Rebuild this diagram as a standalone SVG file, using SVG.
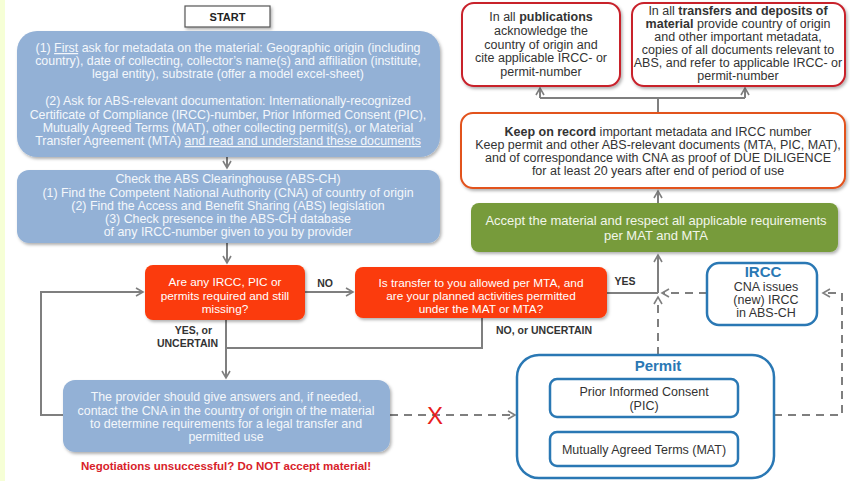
<svg xmlns="http://www.w3.org/2000/svg" width="850" height="481" viewBox="0 0 850 481">
  <defs>
    <filter id="shadow" x="-10%" y="-10%" width="120%" height="130%">
      <feDropShadow dx="1.5" dy="2" stdDeviation="1.5" flood-color="#000" flood-opacity="0.3"/>
    </filter>
    <marker id="arrow" viewBox="0 0 10 10" refX="8" refY="5" markerWidth="5" markerHeight="5" orient="auto-start-reverse">
      <path d="M1,1 L8,5 L1,9" fill="none" stroke="#7f7f7f" stroke-width="1.6"/>
    </marker>
    <style>
      text { font-family: "Liberation Sans", Arial, sans-serif; text-anchor: middle; }
      .blue { fill: #93b1d6; filter: url(#shadow); }
      .bluetxt { fill: #f4f7fb; font-size: 12.4px; }
      .red { fill: #fb3a08; filter: url(#shadow); }
      .redtxt { fill: #ffffff; font-size: 11.8px; }
      .lbl { fill: #333333; font-size: 10.5px; font-weight: bold; }
      .wtxt { fill: #333333; font-size: 12.5px; }
      .flow { fill: none; stroke: #7f7f7f; stroke-width: 2; }
      .dash { fill: none; stroke: #7f7f7f; stroke-width: 2; stroke-dasharray: 8 6; }
      .permit { fill: #ffffff; stroke: #2a78b4; stroke-width: 2.5; }
      .btitle { fill: #2a78b4; font-size: 15px; font-weight: bold; }
    </style>
  </defs>

  <!-- page background -->
  <rect x="0" y="0" width="850" height="481" fill="#ffffff"/>
  <rect x="0" y="0" width="5" height="481" fill="#f6ffd6"/>

  <!-- connectors -->
  <g id="connectors">
    <line class="flow" x1="227" y1="157" x2="227" y2="168" marker-end="url(#arrow)"/>
    <line class="flow" x1="227" y1="243" x2="227" y2="263" marker-end="url(#arrow)"/>
    <line class="flow" x1="305" y1="292" x2="353" y2="292" marker-end="url(#arrow)"/>
    <line class="flow" x1="226" y1="320" x2="226" y2="378" marker-end="url(#arrow)"/>
    <polyline class="flow" points="482,318 482,348 226,348"/>
    <polyline class="flow" points="63,415 41,415 41,292 143,292" marker-end="url(#arrow)"/>
    <line class="flow" x1="607" y1="293" x2="658" y2="293"/>
    <line class="flow" x1="658" y1="293" x2="658" y2="255" marker-end="url(#arrow)"/>
    <line class="flow" x1="658" y1="203" x2="658" y2="191" marker-end="url(#arrow)"/>
    <polyline class="flow" points="658,113 658,98"/>
    <line class="flow" x1="540" y1="98" x2="745" y2="98"/>
    <line class="flow" x1="540" y1="98" x2="540" y2="88" marker-end="url(#arrow)"/>
    <line class="flow" x1="745" y1="98" x2="745" y2="88" marker-end="url(#arrow)"/>
    <line class="dash" x1="390" y1="415" x2="515" y2="415" marker-end="url(#arrow)"/>
    <line class="dash" x1="707" y1="293" x2="662" y2="293" marker-end="url(#arrow)"/>
    <line class="dash" x1="658" y1="355" x2="658" y2="297" marker-end="url(#arrow)"/>
    <polyline class="dash" points="774,415 842,415 842,293 823,293" marker-end="url(#arrow)"/>
    <text x="435" y="424" fill="#e8201c" font-size="24">X</text>
  </g>

  <g id="start">
    <rect x="185" y="6" width="85" height="21" fill="#ffffff" stroke="#555555" stroke-width="1.2" filter="url(#shadow)"/>
    <text x="227.5" y="21" font-size="11" font-weight="bold" fill="#222222">START</text>
  </g>

  <g id="ask-metadata">
    <rect class="blue" x="17" y="31" width="423" height="126" rx="20"/>
    <text class="bluetxt" x="228" y="52">(1) <tspan text-decoration="underline">First</tspan> ask for metadata on the material: Geographic origin (including</text>
    <text class="bluetxt" x="228" y="65">country), date of collecting, collector’s name(s) and affiliation (institute,</text>
    <text class="bluetxt" x="228" y="78">legal entity), substrate (offer a model excel-sheet)</text>
    <text class="bluetxt" x="228" y="105">(2) Ask for ABS-relevant documentation: Internationally-recognized</text>
    <text class="bluetxt" x="228" y="119">Certificate of Compliance (IRCC)-number, Prior Informed Consent (PIC),</text>
    <text class="bluetxt" x="228" y="132">Mutually Agreed Terms (MAT), other collecting permit(s), or Material</text>
    <text class="bluetxt" x="228" y="145">Transfer Agreement (MTA) <tspan text-decoration="underline">and read and understand these documents</tspan></text>
  </g>

  <g id="check-abs-ch">
    <rect class="blue" x="17" y="170" width="423" height="73" rx="12"/>
    <text class="bluetxt" x="228" y="183">Check the ABS Clearinghouse  (ABS-CH)</text>
    <text class="bluetxt" x="228" y="197">(1) Find the Competent National Authority (CNA) of country of origin</text>
    <text class="bluetxt" x="228" y="210">(2) Find the Access and Benefit Sharing (ABS) legislation</text>
    <text class="bluetxt" x="228" y="223">(3) Check presence in the ABS-CH database</text>
    <text class="bluetxt" x="228" y="236">of any IRCC-number given to you by provider</text>
  </g>

  <g id="missing-question">
    <rect class="red" x="145" y="265" width="160" height="55" rx="8"/>
    <text class="redtxt" x="225" y="286">Are any IRCC, PIC or</text>
    <text class="redtxt" x="225" y="300">permits required and still</text>
    <text class="redtxt" x="225" y="313">missing?</text>
  </g>

  <g id="labels">
    <text class="lbl" x="325" y="287">NO</text>
    <text class="lbl" x="625" y="285">YES</text>
    <text class="lbl" x="544" y="334">NO, or UNCERTAIN</text>
    <text class="lbl" x="212" y="334" style="text-anchor:end">YES, or</text>
    <text class="lbl" x="218" y="347" style="text-anchor:end">UNCERTAIN</text>
  </g>

  <g id="transfer-question">
    <rect class="red" x="355" y="267" width="252" height="51" rx="8"/>
    <text class="redtxt" x="481" y="287">Is transfer to you allowed per MTA, and</text>
    <text class="redtxt" x="481" y="300">are your planned activities permitted</text>
    <text class="redtxt" x="481" y="313">under the MAT or MTA?</text>
  </g>

  <g id="provider">
    <rect class="blue" x="63" y="380" width="327" height="72" rx="12"/>
    <text class="bluetxt" x="226" y="401">The provider should give answers and, if needed,</text>
    <text class="bluetxt" x="226" y="415">contact the CNA in the country of origin of the material</text>
    <text class="bluetxt" x="226" y="428">to determine requirements for a legal transfer and</text>
    <text class="bluetxt" x="226" y="441">permitted use</text>
    <text x="226" y="470" fill="#d8222a" font-size="11.5" font-weight="bold">Negotiations unsuccessful?  Do  NOT accept material!</text>
  </g>

  <g id="permit">
    <rect class="permit" x="517" y="355" width="257" height="123" rx="22"/>
    <text class="btitle" x="658" y="371">Permit</text>
    <rect class="permit" x="550" y="379" width="188" height="38" rx="7"/>
    <text class="wtxt" x="644" y="396" font-size="13">Prior Informed  Consent</text>
    <text class="wtxt" x="644" y="410" font-size="13">(PIC)</text>
    <rect class="permit" x="550" y="432" width="188" height="34" rx="7"/>
    <text class="wtxt" x="644" y="454" font-size="13">Mutually Agreed Terms (MAT)</text>
  </g>

  <g id="ircc">
    <rect class="permit" x="707" y="263" width="110" height="62" rx="12"/>
    <text class="btitle" x="763" y="277" font-size="14">IRCC</text>
    <text class="wtxt" x="766" y="291" font-size="11">CNA issues</text>
    <text class="wtxt" x="766" y="304" font-size="11">(new) IRCC</text>
    <text class="wtxt" x="766" y="317" font-size="11">in ABS-CH</text>
  </g>

  <g id="accept">
    <rect x="471" y="203" width="367" height="49" rx="8" fill="#779b3a" filter="url(#shadow)"/>
    <text x="656" y="225" fill="#f2f6ea" font-size="13">Accept the material and respect all applicable requirements</text>
    <text x="656" y="240" fill="#f2f6ea" font-size="13">per MAT and MTA</text>
  </g>

  <g id="keep-record">
    <rect x="461" y="113" width="384" height="75" rx="12" fill="#ffffff" stroke="#e2521e" stroke-width="2" filter="url(#shadow)"/>
    <text class="wtxt" x="658" y="136" font-size="12.7"><tspan font-weight="bold">Keep on record</tspan> important metadata and IRCC number</text>
    <text class="wtxt" x="658" y="149" font-size="12.7">Keep permit and other ABS-relevant documents  (MTA, PIC, MAT),</text>
    <text class="wtxt" x="658" y="162" font-size="12.7">and of correspondance with CNA as proof of DUE  DILIGENCE</text>
    <text class="wtxt" x="658" y="175" font-size="12.7">for at least 20 years after end of period of use</text>
  </g>

  <g id="publications">
    <rect x="462" y="3" width="158" height="83" rx="12" fill="#ffffff" stroke="#c8202c" stroke-width="2" filter="url(#shadow)"/>
    <text class="wtxt" x="541" y="21" font-size="13">In  all <tspan font-weight="bold">publications</tspan></text>
    <text class="wtxt" x="541" y="35" font-size="13">acknowledge the</text>
    <text class="wtxt" x="541" y="49" font-size="13">country of origin and</text>
    <text class="wtxt" x="541" y="62" font-size="13">cite applicable IRCC- or</text>
    <text class="wtxt" x="541" y="76" font-size="13">permit-number</text>
  </g>

  <g id="transfers">
    <rect x="632" y="3" width="213" height="83" rx="12" fill="#ffffff" stroke="#c8202c" stroke-width="2" filter="url(#shadow)"/>
    <text class="wtxt" x="738" y="15" font-size="11.8">In  all <tspan font-weight="bold">transfers and deposits of</tspan></text>
    <text class="wtxt" x="738" y="28" font-size="11.8"><tspan font-weight="bold">material</tspan> provide country of origin</text>
    <text class="wtxt" x="738" y="41" font-size="11.8">and other important metadata,</text>
    <text class="wtxt" x="738" y="54" font-size="11.8">copies of all documents  relevant to</text>
    <text class="wtxt" x="738" y="67" font-size="11.8">ABS, and refer to  applicable IRCC- or</text>
    <text class="wtxt" x="738" y="80" font-size="11.8">permit-number</text>
  </g>
</svg>
